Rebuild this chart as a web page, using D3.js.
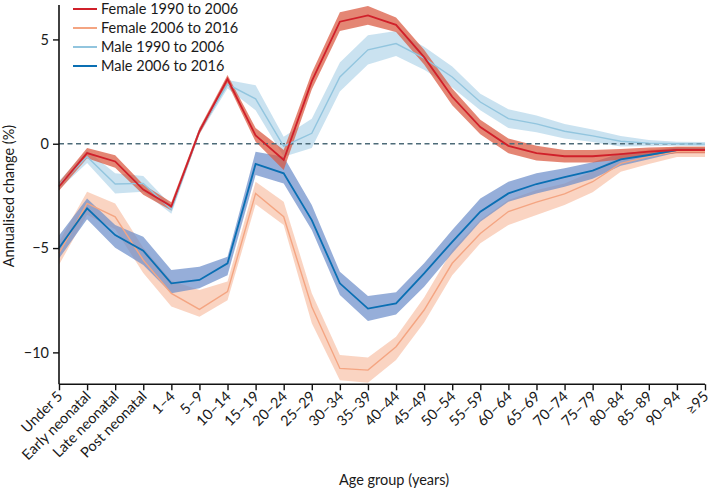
<!DOCTYPE html>
<html><head><meta charset="utf-8">
<script src="https://cdn.jsdelivr.net/npm/d3@7"></script>
<style>body{margin:0;background:#fff}svg{display:block}text{font-family:Lato,sans-serif;fill:#1a1a1a}</style>
</head><body>
<svg id="c" width="711" height="491"></svg>
<script>
const categories = ["Under 5","Early neonatal","Late neonatal","Post neonatal","1–4","5–9","10–14","15–19","20–24","25–29","30–34","35–39","40–44","45–49","50–54","55–59","60–64","65–69","70–74","75–79","80–84","85–89","90–94","≥95"];
const yTicks = [5, 0, -5, -10];

const female9006 = [-2.05,-0.45,-0.85,-2.2,-3.0,0.6,3.1,0.4,-0.78,3.0,5.85,6.15,5.7,4.15,2.25,0.8,-0.1,-0.45,-0.6,-0.6,-0.5,-0.38,-0.3,-0.3];
const female9006Lo = [-2.25,-0.7,-1.15,-2.45,-3.2,0.45,2.9,0.1,-1.26,2.6,5.4,5.7,5.35,3.8,1.85,0.45,-0.45,-0.8,-0.9,-0.9,-0.75,-0.58,-0.45,-0.45];
const female9006Hi = [-1.85,-0.2,-0.55,-1.95,-2.8,0.75,3.3,0.75,-0.3,3.4,6.3,6.6,6.05,4.5,2.65,1.15,0.25,-0.1,-0.3,-0.3,-0.25,-0.18,-0.15,-0.15];

const female0616 = [-5.25,-2.86,-3.5,-5.58,-7.17,-7.94,-7.09,-2.38,-3.5,-7.81,-10.77,-10.85,-9.73,-7.97,-5.73,-4.3,-3.25,-2.8,-2.4,-1.82,-0.94,-0.62,-0.38,-0.38];
const female0616Lo = [-5.8,-3.4,-4.1,-6.2,-7.8,-8.29,-7.5,-2.9,-3.9,-8.6,-11.33,-11.45,-10.37,-8.57,-6.3,-4.77,-3.9,-3.42,-2.94,-2.32,-1.34,-0.97,-0.63,-0.63];
const female0616Hi = [-4.7,-2.3,-2.86,-4.98,-6.57,-7.01,-6.6,-1.82,-2.78,-7.16,-10.13,-10.25,-9.25,-7.37,-5.1,-3.66,-2.7,-2.22,-1.9,-1.32,-0.54,-0.27,-0.13,-0.13];

const male9006 = [-1.98,-0.62,-1.93,-1.9,-3.15,0.6,2.85,2.15,-0.12,0.5,3.2,4.5,4.8,4.1,3.2,2.0,1.2,0.95,0.6,0.38,0.12,0.03,0.0,-0.02];
const male9006Lo = [-2.18,-0.92,-2.38,-2.3,-3.35,0.45,2.65,1.6,-0.62,-0.2,2.5,3.8,4.2,3.55,2.7,1.6,0.75,0.55,0.25,0.08,-0.13,-0.12,-0.1,-0.12];
const male9006Hi = [-1.78,-0.32,-1.42,-1.55,-2.95,0.75,3.05,2.8,0.34,1.2,3.9,5.2,5.4,4.65,3.7,2.4,1.65,1.35,0.95,0.68,0.37,0.18,0.1,0.08];

const male0616 = [-5.0,-3.1,-4.38,-5.13,-6.69,-6.53,-5.73,-0.97,-1.42,-3.66,-6.69,-7.9,-7.65,-6.21,-4.7,-3.26,-2.38,-1.93,-1.6,-1.29,-0.75,-0.54,-0.3,-0.3];
const male0616Lo = [-5.5,-3.62,-4.98,-5.81,-7.16,-6.93,-6.3,-1.5,-1.9,-4.14,-7.25,-8.5,-8.18,-6.86,-5.25,-3.74,-2.78,-2.38,-2.06,-1.68,-1.05,-0.74,-0.42,-0.4];
const male0616Hi = [-4.4,-2.62,-3.9,-4.46,-6.05,-5.9,-5.42,-0.38,-0.62,-2.94,-6.14,-7.3,-7.12,-5.73,-4.14,-2.62,-1.82,-1.42,-1.18,-0.89,-0.45,-0.34,-0.18,-0.2];

const seriesNames = ["Female 1990 to 2006","Female 2006 to 2016","Male 1990 to 2006","Male 2006 to 2016"];
const seriesVals = [female9006, female0616, male9006, male0616];
const seriesLo = [female9006Lo, female0616Lo, male9006Lo, male0616Lo];
const seriesHi = [female9006Hi, female0616Hi, male9006Hi, male0616Hi];
const lineColors = ["#d0202a","#f4a582","#92c5de","#0a6fb3"];
const bandColors = ["#d9573f","#f7b99c","#a7cfe6","#6e8fcb"];
const bandOpacity = [0.72,0.62,0.6,0.72];
const lineWidths = [1.8,1.4,1.4,1.8];

const svg = d3.select("#c");
const x = d3.scalePoint().domain(categories).range([59,705]);
const y = d3.scaleLinear().domain([-11.53,6.65]).range([384.3,5]);

const g = svg.append("g");
const drawOrder = [1,3,2,0];
drawOrder.forEach(s=>{
  const area = d3.area().x((d,i)=>x(categories[i])).y0((d,i)=>y(seriesLo[s][i])).y1((d,i)=>y(seriesHi[s][i]));
  g.append("path").attr("d", area(seriesVals[s])).attr("fill", bandColors[s]).attr("fill-opacity", bandOpacity[s]);
});
g.append("line").attr("x1",x(categories[0])).attr("x2",x(categories[categories.length-1]))
 .attr("y1",y(0)).attr("y2",y(0)).attr("stroke","#4d6b78").attr("stroke-width",1.6).attr("stroke-dasharray","5,3.5");
drawOrder.forEach(s=>{
  const line = d3.line().x((d,i)=>x(categories[i])).y(d=>y(d));
  g.append("path").attr("d", line(seriesVals[s])).attr("fill","none").attr("stroke",lineColors[s]).attr("stroke-width",lineWidths[s]);
});

const FS = 14.5;
const yAxis = svg.append("g").attr("transform","translate(59,0)")
  .call(d3.axisLeft(y).tickValues(yTicks).tickSize(6).tickFormat(d=> d<0 ? "−"+Math.abs(d) : d));
yAxis.select(".domain").attr("d", `M0,${y.range()[1]}V${y.range()[0]}`).attr("stroke","#111").attr("stroke-width",1.6);
yAxis.selectAll(".tick line").attr("stroke","#111").attr("stroke-width",1.4);
yAxis.selectAll(".tick text").attr("font-size",FS).attr("font-family","Lato").attr("fill","#1a1a1a").attr("dx",-1);

const xAxis = svg.append("g").attr("transform","translate(0,384.3)")
  .call(d3.axisBottom(x).tickSize(6).tickSizeOuter(0));
xAxis.select(".domain").attr("d",`M59,0H705`).attr("stroke","#111").attr("stroke-width",1.6);
xAxis.selectAll(".tick line").attr("stroke","#111").attr("stroke-width",1.4);
xAxis.selectAll(".tick text").attr("font-size",FS).attr("font-family","Lato").attr("fill","#1a1a1a")
  .attr("text-anchor","end").attr("dy",0).attr("y",0)
  .attr("transform","translate(4,13) rotate(-45)");

svg.append("text").attr("transform","translate(14,196) rotate(-90)").attr("text-anchor","middle")
  .attr("font-size",FS).text("Annualised change (%)");
svg.append("text").attr("x",394).attr("y",485).attr("text-anchor","middle").attr("font-size",FS).text("Age group (years)");

const leg = svg.append("g");
seriesNames.forEach((n,i)=>{
  const yy = 9 + i*19;
  leg.append("line").attr("x1",73).attr("x2",97).attr("y1",yy).attr("y2",yy).attr("stroke",lineColors[i]).attr("stroke-width",2);
  leg.append("text").attr("x",101).attr("y",yy).attr("dy","0.35em").attr("font-size",FS).text(n);
});
</script>
</body></html>
